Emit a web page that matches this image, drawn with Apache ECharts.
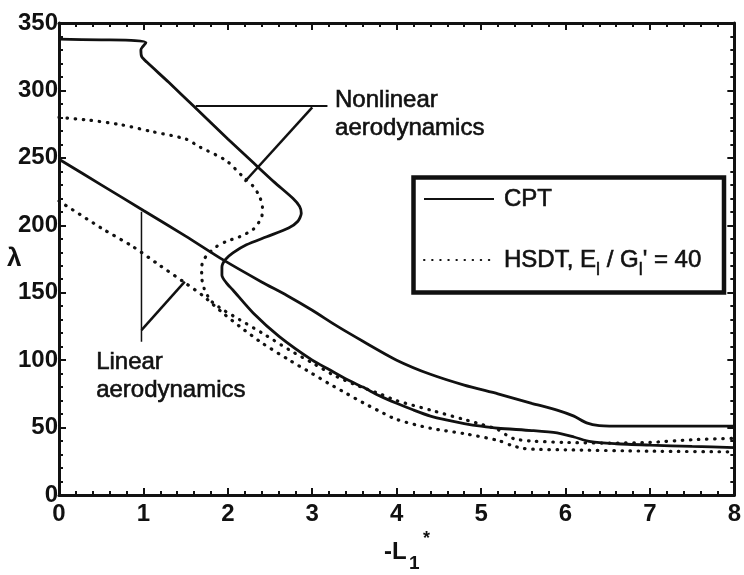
<!DOCTYPE html>
<html>
<head>
<meta charset="utf-8">
<script src="https://cdn.jsdelivr.net/npm/echarts@6/dist/echarts.min.js"></script>
<style>
  html, body { margin: 0; padding: 0; background: #ffffff; }
  #chart { width: 744px; height: 575px; }
</style>
</head>
<body>
<div id="chart"></div>
<script>
// Flutter boundaries lambda versus -L1*, each curve as [x, y] pairs
const cptNonlinear = [
  [0, 338], [0.5, 337.5], [0.9, 337], [1.03, 335.5], [0.97, 330], [0.98, 325],
  [1.04, 321], [1.3, 306], [1.6, 288], [2.0, 264], [2.3, 246.5], [2.55, 232],
  [2.77, 220], [2.85, 214], [2.87, 209], [2.83, 203], [2.72, 198], [2.46, 191.5],
  [2.22, 185.5], [2.06, 179.5], [1.97, 174.5], [1.93, 169], [1.93, 163],
  [1.98, 157.5], [2.06, 152], [2.3, 135], [2.61, 117.5], [3.0, 100], [3.2, 93],
  [3.4, 86], [3.6, 80], [3.8, 73.5], [4.0, 68], [4.2, 63], [4.4, 58.5],
  [4.6, 55.5], [4.8, 53], [5.0, 51], [5.2, 49.5], [5.6, 47.8], [5.9, 46],
  [6.1, 43], [6.3, 39.5], [6.6, 38], [7.0, 37], [7.5, 36], [8, 35.2]
];
const cptLinear = [
  [0, 249], [0.5, 230], [1.0, 211], [1.5, 192], [1.94, 174.5], [2.4, 158],
  [2.7, 148], [3.0, 137], [3.3, 125], [3.6, 114], [4.0, 100], [4.4, 89.5],
  [4.8, 81.5], [5.2, 75], [5.6, 68], [5.9, 63], [6.1, 58.5], [6.25, 53.5],
  [6.4, 51.5], [6.7, 51], [7.5, 51], [8, 51]
];
const hsdtNonlinear = [
  [0, 280], [0.35, 278], [0.74, 274.5], [1.1, 269.5], [1.5, 264], [1.67, 258],
  [1.98, 248], [2.18, 236], [2.3, 229], [2.37, 222], [2.41, 214], [2.40, 206],
  [2.3, 197], [2.14, 191.5], [1.98, 188], [1.86, 184], [1.77, 179], [1.71, 174],
  [1.69, 169], [1.69, 162], [1.72, 153], [1.8, 144], [1.94, 137.5], [2.14, 130],
  [2.41, 120], [2.73, 107.5], [3.0, 98], [3.25, 89], [3.5, 82], [3.8, 75],
  [4.0, 70], [4.4, 63], [4.8, 56], [5.0, 52.5], [5.2, 48.5], [5.3, 44.5],
  [5.4, 41.5], [5.6, 40], [6.0, 39], [6.5, 38.5], [7.0, 39], [7.5, 41], [8, 42]
];
const hsdtLinear = [
  [0, 218], [0.5, 198], [0.88, 184], [1.2, 170], [1.5, 157], [1.7, 148],
  [1.94, 135], [2.14, 125], [2.41, 112.5], [2.73, 100], [3.0, 90], [3.2, 82.5],
  [3.4, 75.5], [3.6, 68.5], [3.8, 62], [4.0, 56], [4.4, 49.5], [4.8, 45.5],
  [5.2, 40.5], [5.35, 37], [5.5, 34.5], [5.7, 33.8], [6.0, 33.5], [7.0, 32.5],
  [8, 32]
];

// Leader lines for the two annotations
const leaderNonlinearA = [[1.62, 288.4], [3.18, 288.4]];
const leaderNonlinearB = [[3.0, 287.5], [2.2, 232.3]];
const leaderLinearA = [[0.977, 210], [0.977, 113.7]];
const leaderLinearB = [[0.977, 122.3], [1.49, 158.2]];

// Annotation anchors (left edge, vertical middle of the text block)
const noteNonlinearAt = [3.27, 282];
const noteLinearAt = [0.44, 88];
const noteNonlinearText = 'Nonlinear\naerodynamics';
const noteLinearText = 'Linear\naerodynamics';

const legendNames = ['CPT', 'HSDT'];

const INK = '#111111';
const FONT = '"Liberation Sans", Arial, Helvetica, sans-serif';

const solidStyle = { color: INK, width: 2.8, type: 'solid' };
const dotStyle = { color: INK, width: 3.2, type: [0.5, 7.6], cap: 'round' };

function curve(name, data, lineStyle) {
  return {
    name: name, type: 'line', data: data, showSymbol: false, symbol: 'none',
    smooth: 0.25, lineStyle: lineStyle, itemStyle: { color: INK },
    silent: true, z: 3
  };
}
function leader(data, width) {
  return {
    name: 'leader', type: 'line', data: data, showSymbol: false, symbol: 'none',
    lineStyle: { color: INK, width: width }, silent: true, z: 4
  };
}

const tickCommon = {
  axisLine: { show: true, onZero: false, lineStyle: { color: INK, width: 3 } },
  axisTick: { show: true, inside: true, length: 7, lineStyle: { color: INK, width: 2 } },
  minorTick: { show: true, splitNumber: 5, length: 4, lineStyle: { color: INK, width: 2 } },
  splitLine: { show: false },
  minorSplitLine: { show: false }
};

const frameGraphics = [
  {
    id: 'legendBox', type: 'rect', z: 1, silent: true,
    shape: { x: 413.5, y: 177.5, width: 310.5, height: 115 },
    style: { fill: '#ffffff', stroke: INK, lineWidth: 4.5 }
  },
  {
    id: 'yTitle', type: 'text', left: 7, top: 246, silent: true,
    style: { text: 'λ', font: 'bold 26px ' + FONT, fill: INK }
  },
  {
    id: 'xTitle', type: 'text', left: 384, top: 540, silent: true,
    style: { text: '-L', font: 'bold 24px ' + FONT, fill: INK }
  },
  {
    id: 'xTitleSub', type: 'text', left: 409, top: 554, silent: true,
    style: { text: '1', font: 'bold 19px ' + FONT, fill: INK }
  },
  {
    id: 'xTitleSup', type: 'text', left: 423, top: 530, silent: true,
    style: { text: '*', font: 'bold 18px ' + FONT, fill: INK }
  }
];

const chart = echarts.init(document.getElementById('chart'));
chart.setOption({
  backgroundColor: '#ffffff',
  animation: false,
  grid: { left: 59, right: 7, top: 23, bottom: 80, containLabel: false },
  xAxis: [
    Object.assign({
      type: 'value', min: 0, max: 8, interval: 1, position: 'bottom',
      axisLabel: { fontFamily: FONT, fontSize: 24, fontWeight: 'bold', color: INK, margin: 7 }
    }, tickCommon),
    Object.assign({
      type: 'value', min: 0, max: 8, interval: 1, position: 'top',
      axisLabel: { show: false }
    }, tickCommon)
  ],
  yAxis: [
    Object.assign({
      type: 'value', min: 0, max: 350, interval: 50, position: 'left',
      axisLabel: { fontFamily: FONT, fontSize: 24, fontWeight: 'bold', color: INK, margin: 1 }
    }, tickCommon),
    Object.assign({
      type: 'value', min: 0, max: 350, interval: 50, position: 'right',
      axisLabel: { show: false }
    }, tickCommon)
  ],
  legend: {
    data: legendNames,
    orient: 'vertical',
    left: 423, top: 180,
    itemWidth: 70, itemHeight: 14, itemGap: 23,
    padding: 0,
    selectedMode: false,
    itemStyle: { color: 'rgba(0,0,0,0)', borderWidth: 0, opacity: 0 },
    formatter: function (name) {
      return name === 'HSDT' ? "HSDT, E{s|l} / G{s|l}' = 40" : name;
    },
    textStyle: {
      fontFamily: FONT, fontSize: 24, color: INK, lineHeight: 38, padding: [0, 0, 0, 5],
      textBorderColor: INK, textBorderWidth: 0.6,
      rich: {
        s: {
          fontFamily: FONT, fontSize: 18, lineHeight: 18, verticalAlign: 'bottom', color: INK,
          textBorderColor: INK, textBorderWidth: 0.5
        }
      }
    }
  },
  graphic: frameGraphics,
  series: [
    curve('CPT', cptNonlinear, solidStyle),
    curve('CPT', cptLinear, solidStyle),
    curve('HSDT', hsdtNonlinear, dotStyle),
    curve('HSDT', hsdtLinear, dotStyle),
    leader(leaderNonlinearA, 2),
    leader(leaderNonlinearB, 2.5),
    leader(leaderLinearA, 1.5),
    leader(leaderLinearB, 2.5)
  ]
});

// Annotation texts, placed through the grid's own coordinate conversion
function noteGraphic(id, at, text) {
  const p = chart.convertToPixel({ gridIndex: 0 }, at);
  return {
    id: id, type: 'text', x: p[0], y: p[1], silent: true, z: 5,
    style: {
      text: text, font: '24px ' + FONT, fill: INK, lineHeight: 28,
      align: 'left', verticalAlign: 'middle', stroke: INK, lineWidth: 0.6
    }
  };
}
chart.setOption({
  graphic: frameGraphics.concat([
    noteGraphic('noteNonlinear', noteNonlinearAt, noteNonlinearText),
    noteGraphic('noteLinear', noteLinearAt, noteLinearText)
  ])
});
</script>
</body>
</html>
